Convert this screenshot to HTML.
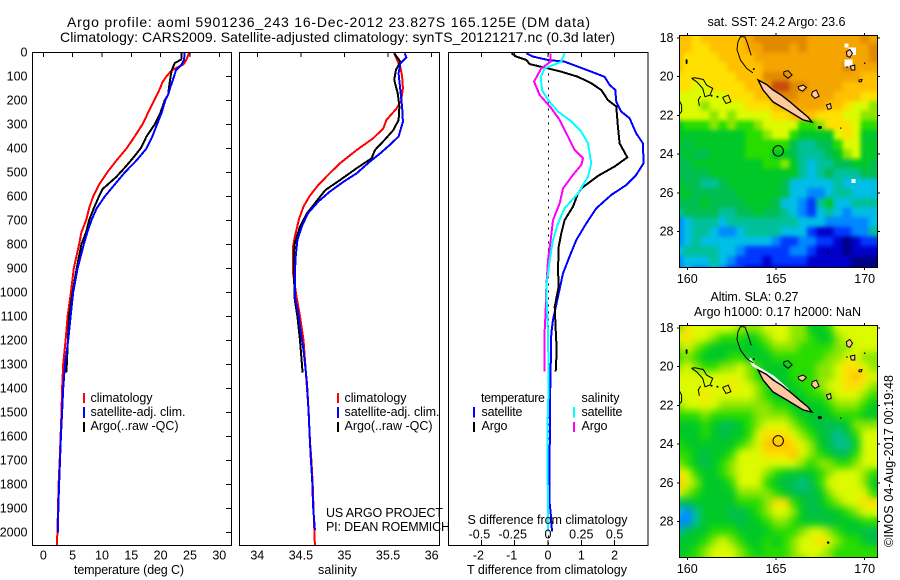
<!DOCTYPE html>
<html lang="en">
<head>
<meta charset="utf-8">
<title>Argo profile</title>
<style>
html,body{margin:0;padding:0;background:#fff;}
svg{display:block;font-family:"Liberation Sans",sans-serif;font-size:12.5px;fill:#000;}
</style>
</head>
<body>
<svg id="chart" xmlns="http://www.w3.org/2000/svg" width="900" height="580" viewBox="0 0 900 580">
  <defs>
    <clipPath id="clip-t"><rect x="33" y="53" width="198" height="492"/></clipPath>
    <clipPath id="clip-s"><rect x="240" y="53" width="199" height="492"/></clipPath>
    <clipPath id="clip-d"><rect x="449" y="53" width="199" height="492"/></clipPath>
    <clipPath id="clip-m1"><rect x="680" y="36" width="198" height="231"/></clipPath>
    <clipPath id="clip-m2"><rect x="680" y="326" width="198" height="231"/></clipPath>
    <filter id="soft-sst" x="-5%" y="-5%" width="110%" height="110%" color-interpolation-filters="sRGB">
      <feGaussianBlur in="SourceGraphic" stdDeviation="2" result="b"/>
      <feMerge><feMergeNode in="SourceGraphic"/><feMergeNode in="b"/></feMerge>
    </filter>
    <filter id="soft-sla" x="-5%" y="-5%" width="110%" height="110%" color-interpolation-filters="sRGB">
      <feGaussianBlur in="SourceGraphic" stdDeviation="4" result="b"/>
      <feMerge><feMergeNode in="SourceGraphic"/><feMergeNode in="b"/></feMerge>
    </filter>
  </defs>
  <text x="67" y="27" font-size="14" textLength="523" lengthAdjust="spacing">Argo profile: aoml 5901236_243 16-Dec-2012 23.827S 165.125E (DM data)</text>
  <text x="60" y="42" font-size="14" textLength="555" lengthAdjust="spacing">Climatology: CARS2009. Satellite-adjusted climatology: synTS_20121217.nc (0.3d later)</text>

  <g id="panel-t"></g>
  <g id="panel-s"></g>
  <g id="panel-d"></g>
  <g id="map-sst"></g>
  <g id="map-sla"></g>

  <text x="74" y="574" textLength="110" lengthAdjust="spacing">temperature (deg C)</text>
  <text x="318" y="574" textLength="39" lengthAdjust="spacing">salinity</text>
  <text x="467" y="574" textLength="160" lengthAdjust="spacing">T difference from climatology</text>
  <text x="467.5" y="524" textLength="160" lengthAdjust="spacing">S difference from climatology</text>

  <g>
    <rect x="83" y="393" width="2" height="10" fill="#f00"/>
    <rect x="83" y="407" width="2" height="11" fill="#00f"/>
    <rect x="83" y="422" width="2" height="10" fill="#000"/>
    <text x="90.5" y="402" textLength="62" lengthAdjust="spacing">climatology</text>
    <text x="90.5" y="416" textLength="95" lengthAdjust="spacing">satellite-adj. clim.</text>
    <text x="90.5" y="430" textLength="88" lengthAdjust="spacing">Argo(..raw -QC)</text>
  </g>
  <g>
    <rect x="337" y="393" width="2" height="10" fill="#f00"/>
    <rect x="337" y="407" width="2" height="11" fill="#00f"/>
    <rect x="337" y="422" width="2" height="10" fill="#000"/>
    <text x="344.5" y="402" textLength="62" lengthAdjust="spacing">climatology</text>
    <text x="344.5" y="416" textLength="95" lengthAdjust="spacing">satellite-adj. clim.</text>
    <text x="344.5" y="430" textLength="88" lengthAdjust="spacing">Argo(..raw -QC)</text>
  </g>
  <text x="326" y="517" textLength="117" lengthAdjust="spacing">US ARGO PROJECT</text>
  <text x="326" y="531" textLength="124" lengthAdjust="spacing">PI: DEAN ROEMMICH</text>

  <g>
    <text x="481" y="402" textLength="64" lengthAdjust="spacing">temperature</text>
    <text x="581.5" y="402" textLength="38" lengthAdjust="spacing">salinity</text>
    <rect x="473" y="407" width="2" height="10.5" fill="#00f"/>
    <rect x="473" y="422" width="2" height="10" fill="#000"/>
    <rect x="573" y="407" width="2" height="10.5" fill="#0ff"/>
    <rect x="573" y="422" width="2" height="10" fill="#f0f"/>
    <text x="481.5" y="416" textLength="41" lengthAdjust="spacing">satellite</text>
    <text x="481.5" y="430" textLength="26" lengthAdjust="spacing">Argo</text>
    <text x="581.5" y="416" textLength="41" lengthAdjust="spacing">satellite</text>
    <text x="581.5" y="430" textLength="26" lengthAdjust="spacing">Argo</text>
  </g>

  <text x="707.5" y="26" textLength="138" lengthAdjust="spacing">sat. SST: 24.2 Argo: 23.6</text>
  <text x="710.5" y="301" textLength="88" lengthAdjust="spacing">Altim. SLA: 0.27</text>
  <text x="694" y="316" textLength="167" lengthAdjust="spacing">Argo h1000: 0.17 h2000: NaN</text>
  <text transform="translate(893,547) rotate(-90)" textLength="172" lengthAdjust="spacing">©IMOS 04-Aug-2017 00:19:48</text>
</svg>
<script>
// ---------- profile data ----------
const depthTicks = [0,100,200,300,400,500,600,700,800,900,1000,1100,1200,1300,1400,1500,1600,1700,1800,1900,2000];
const tempTicks = [0,5,10,15,20,25,30];
const salTicks = [34,34.5,35,35.5,36];
const salTickLabels = ['34','34.5','35','35.5','36'];
const tDiffTicks = [-2,-1,0,1,2];
const sDiffTicks = [-0.5,-0.25,0,0.25,0.5];
const sDiffTickLabels = ['-0.5','-0.25','0','0.25','0.5'];

const tClimDepth = [0,30,50,75,100,125,150,200,250,300,350,400,450,500,550,600,650,700,750,800,900,1000,1100,1200,1300,1400,1500,1600,1700,1800,1900,2000,2054];
const tClim = [24.9,24.4,23.9,21.9,21.0,20.3,19.9,18.9,17.9,16.9,15.6,14.2,12.5,10.9,9.55,8.5,7.8,7.3,6.5,6.1,5.2,4.7,4.15,3.8,3.4,3.2,3.1,2.95,2.8,2.6,2.5,2.4,2.3];
const tSatDepth = [0,30,50,75,100,150,175,200,250,300,350,400,450,500,550,600,650,700,750,800,900,1000,1100,1200,1300,1400,1500,1600,1700,1800,1900,2000];
const tSat = [24.1,24.0,23.6,22.6,22.3,21.6,21.3,20.8,20.2,19.4,18.6,17.6,15.9,13.9,12.2,10.5,9.1,8.2,7.5,6.9,5.85,5.1,4.66,4.25,3.7,3.4,3.2,3.0,2.85,2.7,2.55,2.5];
const tArgoDepth = [0,30,45,75,100,150,175,200,250,300,350,400,440,480,520,570,600,650,700,750,800,900,1000,1100,1200,1300,1335];
const tArgo = [23.6,23.5,22.4,21.9,21.7,21.4,21.3,20.7,20.0,19.0,17.6,16.6,15.3,13.9,12.4,10.1,9.5,8.6,7.8,7.3,6.5,5.7,5.0,4.4,4.2,4.0,3.9];

const sClimDepth = [0,30,60,100,150,200,233,282,317,358,407,462,504,553,599,643,692,768,810,921,1018,1100,1200,1300,1400,1500,1600,1700,1800,1900,2000,2054];
const sClim = [35.57,35.6,35.64,35.66,35.67,35.65,35.6,35.48,35.445,35.33,35.14,34.95,34.83,34.70,34.60,34.53,34.48,34.43,34.41,34.41,34.45,34.49,34.53,34.55,34.57,34.59,34.60,34.62,34.635,34.645,34.655,34.66];
const sSatDepth = [4,21,46,88,157,226,289,351,386,421,456,504,539,581,622,671,726,782,851,921,1018,1088,1171,1240,1310,1379,1476,1587,1671,1782,1893,1990];
const sSat = [35.69,35.71,35.64,35.62,35.64,35.66,35.67,35.62,35.52,35.41,35.29,35.14,34.99,34.83,34.70,34.58,34.51,34.46,34.44,34.43,34.43,34.47,34.50,34.53,34.55,34.57,34.585,34.6,34.61,34.63,34.64,34.66];
const sArgoDepth = [4,39,74,115,171,226,282,324,365,407,442,483,532,574,629,671,726,796,838,921,1032,1100,1200,1335];
const sArgo = [35.57,35.64,35.59,35.57,35.61,35.63,35.62,35.56,35.46,35.35,35.31,35.14,34.95,34.78,34.66,34.57,34.49,34.43,34.42,34.42,34.43,34.46,34.49,34.52];

const dtSatDepth = [4,18,32,39,60,81,102,136,157,206,247,275,338,379,462,511,553,594,650,713,782,851,921,1018,1115,1171,1310,1449,1587,1726,1865,1921,1997];
const dtSat = [-0.65,-0.45,0,0.5,0.9,1.3,1.7,1.85,2.02,2.05,2.2,2.45,2.65,2.85,2.87,2.65,2.35,1.9,1.45,1.15,0.85,0.65,0.45,0.3,0.15,0.1,0.08,0.06,0.06,0.04,0.04,0.08,0.12];
const dtArgoDepth = [4,18,32,49,67,81,102,129,157,199,226,310,379,438,476,515,567,588,643,699,754,810,907,976,1060,1157,1240,1330];
const dtArgo = [-1.1,-0.95,-0.65,-0.55,0,0.4,0.9,1.3,1.6,1.8,2.05,2.1,2.15,2.38,2.0,1.5,1.0,0.9,0.75,0.5,0.4,0.32,0.3,0.32,0.2,0.23,0.26,0.23];
const dsSatDepth = [4,39,67,102,157,199,247,282,331,379,462,518,588,650,713,782,866,976,1032,1171,1379,1587,1921,1997];
const dsSat = [0.125,0.1,-0.025,-0.055,-0.045,0,0.075,0.1625,0.25,0.3,0.325,0.3,0.225,0.125,0.075,0.0375,0.0125,-0.0125,-0.01,0,0.005,-0.005,0,0];
const dsArgoDepth = [4,39,67,122,178,233,282,351,407,442,469,511,567,629,699,782,866,976,1074,1157,1330];
const dsArgo = [0.0175,0.02,-0.05,-0.105,-0.0625,0.025,0.0875,0.15,0.2,0.2625,0.25,0.1875,0.1125,0.0875,0.0375,0.02,0,-0.0125,-0.0175,-0.025,-0.025];

// ---------- map data: colour-level per 0.5 degree cell ----------
const mapLons = [159.5,160,160.5,161,161.5,162,162.5,163,163.5,164,164.5,165,165.5,166,166.5,167,167.5,168,168.5,169,169.5,170,170.5];
const mapLats = [18,18.5,19,19.5,20,20.5,21,21.5,22,22.5,23,23.5,24,24.5,25,25.5,26,26.5,27,27.5,28,28.5,29,29.5,30];
const lonTicks = [160,165,170];
const latTicks = [18,20,22,24,26,28];
const sstLevels = [
[12,12,11,12,12,12,12,12,13,14,14,14,14,14,14,13,13,13,13,13,13,14,13],
[12,12,11,11,12,12,12,12,13,13,14,14,14,13,14,13,13,13,13,13,13,13,14],
[12,11,11,11,11,12,12,12,12,13,13,13,13,13,13,13,13,13,13,13,13,13,14],
[12,11,11,11,11,11,12,12,12,12,13,13,13,13,13,13,13,13,13,14,13,13,13],
[11,11,11,11,11,11,11,12,12,12,14,14,14,13,13,13,13,13,13,13,13,12,12],
[11,11,10,10,11,11,11,11,12,12,13,15,15,14,14,13,13,13,13,12,12,12,12],
[10,10,10,10,10,10,11,11,11,12,12,14,14,14,13,13,13,13,12,12,12,11,11],
[10,10,10,9,10,10,10,10,11,11,11,12,13,13,13,13,13,12,12,11,10,10,9],
[10,10,10,10,9,10,9,10,10,10,10,11,11,12,12,12,11,11,11,10,10,9,9],
[7,8,8,8,9,8,9,8,8,9,10,10,10,10,8,8,9,11,11,11,10,8,8],
[7,7,7,7,7,7,7,7,8,8,9,10,10,8,7,7,7,7,10,11,10,7,7],
[7,6,7,7,7,7,7,7,8,8,8,8,8,6,5,5,6,6,8,10,10,7,7],
[6,7,6,6,7,7,7,7,8,8,8,7,7,6,5,5,5,6,7,9,10,7,7],
[6,6,7,7,7,7,7,7,7,7,8,8,9,7,5,4,5,5,6,6,7,7,6],
[6,6,6,6,7,7,7,7,7,7,7,7,7,7,5,4,5,6,5,5,5,6,6],
[7,6,6,5,5,6,7,7,7,7,7,7,6,4,4,4,4,4,5,4,4,4,4],
[7,7,6,6,6,6,6,7,7,7,7,7,6,4,4,3,3,4,5,5,4,4,4],
[6,6,6,7,6,6,6,6,7,7,7,6,4,4,3,2,5,7,4,4,5,5,5],
[5,6,6,6,6,5,5,6,6,7,6,6,5,4,3,2,4,5,4,3,4,4,4],
[3,4,5,5,5,4,5,5,5,5,5,5,5,5,4,4,4,3,3,3,3,3,4],
[3,4,5,5,4,3,3,4,5,5,5,5,4,4,4,2,1,1,2,2,3,3,5],
[3,4,5,4,4,4,4,4,4,4,4,3,2,2,3,3,2,2,1,0,1,2,2],
[4,5,5,5,5,4,4,3,2,2,2,2,2,3,3,2,1,1,1,0,1,1,1],
[3,4,4,4,5,4,3,2,2,2,1,2,2,2,2,1,1,1,1,1,0,0,0],
[3,4,3,3,4,3,2,2,1,1,1,1,1,1,1,1,1,1,1,1,0,0,0]
];
const slaLevels = [
[9,11,10,10,10,10,10,9,9,9,10,10,10,9,9,7,7,8,10,10,10,10,10],
[10,11,10,10,9,8,8,8,7,8,9,10,10,9,9,8,7,7,9,10,10,10,10],
[9,10,9,8,7,7,7,7,7,7,8,9,9,9,8,8,8,8,9,9,10,10,10],
[8,9,8,7,7,7,8,8,7,7,7,8,8,8,8,8,8,9,9,10,10,9,9],
[9,10,9,8,8,9,9,10,9,8,7,7,7,8,8,8,9,9,10,11,11,10,9],
[10,10,10,10,10,10,10,10,9,8,7,7,7,8,8,8,9,9,10,11,12,11,10],
[10,10,10,10,10,10,11,10,10,9,8,7,7,7,8,8,9,10,10,11,11,10,9],
[10,10,10,11,10,10,10,10,10,9,8,7,7,7,7,8,8,9,10,10,10,9,8],
[9,10,10,10,10,9,9,9,9,9,9,8,8,7,7,7,7,8,9,9,9,8,7],
[8,8,8,9,8,8,8,8,8,9,9,9,9,8,7,7,7,7,8,8,8,7,7],
[7,7,7,8,7,6,6,7,8,9,10,10,10,9,8,7,6,6,6,7,9,9,9],
[7,7,7,8,7,6,7,7,8,10,11,11,11,10,9,8,7,6,5,6,8,10,10],
[8,7,7,7,7,7,7,8,9,10,12,12,12,11,10,9,7,6,5,5,7,10,10],
[8,8,7,6,7,7,8,10,10,10,11,11,11,12,10,9,8,7,6,6,8,10,10],
[9,8,7,6,7,8,9,10,10,10,10,10,10,10,9,8,9,9,8,8,9,10,10],
[11,10,8,7,7,8,9,10,10,10,9,8,7,7,7,7,8,9,10,10,10,9,8],
[12,10,9,7,7,7,8,10,10,10,8,7,6,6,5,6,8,10,10,10,10,9,7],
[10,9,8,7,7,7,7,9,9,9,9,8,7,6,6,6,7,9,10,10,10,10,8],
[6,6,7,7,7,7,7,8,8,8,9,11,11,8,7,6,7,8,9,10,10,11,11],
[4,3,5,7,7,7,6,6,7,8,9,10,10,9,7,6,6,7,7,8,9,10,10],
[3,3,5,7,7,7,7,6,7,7,8,9,9,8,7,7,7,6,7,7,7,8,8],
[5,6,7,7,8,8,8,7,7,7,7,8,8,8,9,10,10,9,8,7,7,6,6],
[7,7,7,8,9,10,9,8,7,7,8,7,8,9,10,10,11,10,9,8,8,7,6],
[7,7,8,9,10,10,10,9,8,7,8,8,8,9,10,10,10,9,8,8,8,8,8],
[7,8,8,9,10,10,10,9,8,8,8,8,8,9,9,10,9,9,8,8,8,8,8]
];
const levelColors = ['#000088','#0000cc','#0038ff','#0088ff','#00bee6','#00c09a','#00be50','#00c828','#28dc00','#8ce600','#dcfa00','#ffe000','#ffc000','#f5a500','#e08a00','#c84a10'];

// [lon, lat] outlines
const mainIsland = [[163.99,20.17],[164.47,20.4],[164.83,20.68],[165.3,20.95],[165.79,21.3],[166.3,21.7],[166.8,22.08],[167.03,22.34],[166.52,22.23],[165.62,21.72],[164.83,21.3],[164.27,20.68]];
const smallIslands = [
[[166.25,20.52],[166.53,20.43],[166.72,20.55],[166.5,20.74],[166.3,20.66]],
[[167.05,20.77],[167.28,20.69],[167.43,21.0],[167.19,21.12],[167.0,20.95]],
[[167.84,21.46],[168.07,21.38],[168.12,21.63],[167.94,21.69]],
[[168.97,18.71],[169.16,18.59],[169.31,18.79],[169.16,19.0],[169.0,18.93]],
[[169.19,19.45],[169.44,19.4],[169.44,19.65],[169.25,19.65]],
[[169.68,20.17],[169.85,20.14],[169.81,20.26],[169.68,20.26]]
];
const reefLines = [
[[162.85,18.2],[163.0,17.93],[163.25,17.95],[163.4,18.3],[163.5,18.6],[163.6,18.9]],
[[162.85,18.2],[162.8,18.6],[163.0,19.14],[163.35,19.57],[163.7,19.8]],
[[160.24,20.08],[160.43,20.05],[160.9,20.14],[161.09,20.43],[161.43,20.6],[161.28,20.95],[161.0,21.03],[160.87,20.6],[160.53,20.26],[160.24,20.08]],
[[160.75,21.0],[160.62,21.2],[160.68,21.5]],
[[161.99,21.07],[162.31,20.95],[162.46,21.29],[162.18,21.38],[161.99,21.07]],
[[159.55,21.24],[159.68,21.46],[159.68,21.8],[159.55,21.93]],
[[165.44,19.74],[165.68,19.69],[165.91,19.91],[165.68,20.08],[165.44,19.91],[165.44,19.74]]
];
const blackSpots = [[159.96,19.22,1,2.5],[167.47,22.62,2,1.6],[167.94,29.08,1.2,1.2],[161.37,20.98,1,1],[161.7,21.03,1,1],[163.75,19.6,1,1],[168.65,22.65,.7,.7],[169.0,19.5,.8,.8],[170.0,19.3,.8,.8]];
const nanCellsSst = [[168.87,18.28,0.23,0.2],[169.1,18.48,0.4,0.4],[168.87,19.1,0.43,0.38],[169.25,25.28,0.24,0.2]];
const slaCoastNan = [[163.53,19.57],[163.71,19.91],[164.18,20.17],[164.84,20.52],[165.68,21.2]];
const argoLon = 165.125;
const argoLat = 23.827;

// ---------- axis functions ----------
const NS = 'http://www.w3.org/2000/svg';
const yD = d => 52.3 + d * 0.24;
const xT = t => 43.3 + t * 5.867;
const xS = s => 257.3 + (s - 34) * 87.2;
const xDT = t => 548 + t * 33.3;
const xDS = s => 548 + s * 133.2;
const xLon = lon => 687.3 + (lon - 160) * 17.74;
const yLat = (y0, lat) => y0 + (lat - 18) * 19.37;

function make(tag, parent, name) {
  const el = document.createElementNS(NS, tag);
  
  
  parent.appendChild(el);
  return el;
}
function tick(parent, x1, y1, x2, y2) {
  const el = make('line', parent, 'tick-mark');
  el.setAttribute('x1', x1); el.setAttribute('y1', y1);
  el.setAttribute('x2', x2); el.setAttribute('y2', y2);
  el.setAttribute('stroke', '#000');
  el.setAttribute('shape-rendering', 'crispEdges');
}
function label(parent, text, x, y, anchor) {
  const el = make('text', parent, 'tick-label');
  el.setAttribute('x', x); el.setAttribute('y', y);
  el.setAttribute('text-anchor', anchor);
  el.textContent = text;
}
function frame(parent, x, y, w, h) {
  const el = make('rect', parent, 'plot-frame');
  el.setAttribute('x', x); el.setAttribute('y', y);
  el.setAttribute('width', w); el.setAttribute('height', h);
  el.setAttribute('fill', 'none');
  el.setAttribute('stroke', '#000');
  el.setAttribute('shape-rendering', 'crispEdges');
}
function series(parent, name, xs, depths, xf, color, width) {
  const el = make('polyline', parent, name);
  el.setAttribute('points', xs.map((v, i) => xf(v).toFixed(1) + ',' + yD(depths[i]).toFixed(1)).join(' '));
  el.setAttribute('fill', 'none');
  el.setAttribute('stroke', color);
  el.setAttribute('stroke-width', width);
  el.setAttribute('shape-rendering', 'crispEdges');
}

// ---------- temperature panel ----------
const pT = document.getElementById('panel-t');
const gT = make('g', pT, 'temperature-series');
gT.setAttribute('clip-path', 'url(#clip-t)');
series(gT, 'temperature-climatology-line', tClim, tClimDepth, xT, '#f00', 2);
series(gT, 'temperature-argo-line', tArgo, tArgoDepth, xT, '#000', 2);
series(gT, 'temperature-satellite-line', tSat, tSatDepth, xT, '#00f', 2);
frame(pT, 32.5, 52.5, 199, 493);
depthTicks.forEach(d => {
  tick(pT, 226, yD(d), 231, yD(d));
  label(pT, String(d), 27.5, yD(d) + 4, 'end');
});
tempTicks.forEach(t => {
  tick(pT, xT(t), 52, xT(t), 57);
  label(pT, String(t), xT(t), 559.5, 'middle');
});

// ---------- salinity panel ----------
const pS = document.getElementById('panel-s');
const gS = make('g', pS, 'salinity-series');
gS.setAttribute('clip-path', 'url(#clip-s)');
series(gS, 'salinity-climatology-line', sClim, sClimDepth, xS, '#f00', 2);
series(gS, 'salinity-argo-line', sArgo, sArgoDepth, xS, '#000', 2);
series(gS, 'salinity-satellite-line', sSat, sSatDepth, xS, '#00f', 2);
frame(pS, 239.5, 52.5, 200, 493);
salTicks.forEach((s, i) => {
  tick(pS, xS(s), 52, xS(s), 57);
  label(pS, salTickLabels[i], xS(s), 559.5, 'middle');
});

// ---------- difference panel ----------
const pD = document.getElementById('panel-d');
const gD = make('g', pD, 'difference-series');
gD.setAttribute('clip-path', 'url(#clip-d)');
const zero = make('line', gD, 'zero-line');
zero.setAttribute('x1', xDT(0) + 0.5); zero.setAttribute('x2', xDT(0) + 0.5);
zero.setAttribute('y1', yD(0)); zero.setAttribute('y2', yD(2054));
zero.setAttribute('stroke', '#000');
zero.setAttribute('stroke-dasharray', '2 5');
zero.setAttribute('shape-rendering', 'crispEdges');
series(gD, 't-diff-satellite-line', dtSat, dtSatDepth, xDT, '#00f', 2);
series(gD, 't-diff-argo-line', dtArgo, dtArgoDepth, xDT, '#000', 2);
series(gD, 's-diff-argo-line', dsArgo, dsArgoDepth, xDS, '#f0f', 2);
series(gD, 's-diff-satellite-line', dsSat, dsSatDepth, xDS, '#0ff', 2);
frame(pD, 448.5, 52.5, 199.5, 493);
tDiffTicks.forEach(t => {
  tick(pD, xDT(t), 52, xDT(t), 57);
  label(pD, String(t), xDT(t) - (t < 0 ? 3 : 0), 559.5, 'middle');
});
sDiffTicks.forEach((s, i) => {
  tick(pD, xDS(s), 540, xDS(s), 545);
  label(pD, sDiffTickLabels[i], xDS(s) - (s < 0 ? 2 : 0), 538.5, 'middle');
});

// ---------- maps ----------
function closedPath(points, y0) {
  return points.map(p => xLon(p[0]).toFixed(1) + ',' + yLat(y0, p[1]).toFixed(1)).join(' ');
}
function drawMap(groupId, y0, levels, clipId, isSst) {
  const g = document.getElementById(groupId);
  const inner = make('g', g, 'map-area');
  inner.setAttribute('clip-path', 'url(#' + clipId + ')');
  const cells = make('g', inner, 'heatmap-cells');
  cells.setAttribute('filter', isSst ? 'url(#soft-sst)' : 'url(#soft-sla)');
  const cw = 0.5 * 17.74;
  const ch = 0.5 * 19.37;
  levels.forEach((row, r) => {
    row.forEach((v, c) => {
      const cell = make('rect', cells, 'heatmap-cell');
      cell.setAttribute('x', (xLon(mapLons[c]) - cw / 2).toFixed(1));
      cell.setAttribute('y', (yLat(y0, mapLats[r]) - ch / 2).toFixed(1));
      cell.setAttribute('width', (cw + 0.5).toFixed(1));
      cell.setAttribute('height', (ch + 0.5).toFixed(1));
      cell.setAttribute('fill', levelColors[v]);
      cell.setAttribute('shape-rendering', 'crispEdges');
    });
  });
  if (isSst) {
    nanCellsSst.forEach(n => {
      const w = make('rect', inner, 'missing-data-cell');
      w.setAttribute('x', xLon(n[0]));
      w.setAttribute('y', yLat(y0, n[1]));
      w.setAttribute('width', n[2] * 17.74);
      w.setAttribute('height', n[3] * 19.37);
      w.setAttribute('fill', '#fff');
      w.setAttribute('shape-rendering', 'crispEdges');
    });
  } else {
    const nan = make('polyline', inner, 'missing-data-coast');
    nan.setAttribute('points', closedPath(slaCoastNan, y0));
    nan.setAttribute('fill', 'none');
    nan.setAttribute('stroke', '#fff');
    nan.setAttribute('stroke-width', '2.5');
  }
  reefLines.forEach(line => {
    const l = make('polyline', inner, 'reef-outline');
    l.setAttribute('points', closedPath(line, y0));
    l.setAttribute('fill', 'none');
    l.setAttribute('stroke', '#000');
    l.setAttribute('stroke-width', '1');
  });
  smallIslands.concat([mainIsland]).forEach(poly => {
    const p = make('polygon', inner, 'island');
    p.setAttribute('points', closedPath(poly, y0));
    p.setAttribute('fill', '#ffc89e');
    p.setAttribute('stroke', '#000');
    p.setAttribute('stroke-width', poly === mainIsland ? '1.4' : '1');
  });
  blackSpots.forEach(s => {
    const e = make('ellipse', inner, 'small-island-spot');
    e.setAttribute('cx', xLon(s[0]));
    e.setAttribute('cy', yLat(y0, s[1]));
    e.setAttribute('rx', s[2]);
    e.setAttribute('ry', s[3]);
    e.setAttribute('fill', '#000');
  });
  const marker = make('circle', inner, 'argo-position-marker');
  marker.setAttribute('cx', xLon(argoLon));
  marker.setAttribute('cy', yLat(y0, argoLat));
  marker.setAttribute('r', 5.2);
  marker.setAttribute('fill', 'none');
  marker.setAttribute('stroke', '#000');
  frame(g, 679.5, y0 - 2.5, 198, 232);
  lonTicks.forEach(lon => {
    tick(g, xLon(lon), y0 - 5, xLon(lon), y0 - 3);
    tick(g, xLon(lon), y0 + 230, xLon(lon), y0 + 232);
    label(g, String(lon), xLon(lon), y0 + 245, 'middle');
  });
  latTicks.forEach(lat => {
    const y = yLat(y0, lat);
    tick(g, 677, y, 679, y);
    tick(g, 878, y, 880, y);
    label(g, String(lat), 673.5, y + 4, 'end');
  });
}
drawMap('map-sst', 38, sstLevels, 'clip-m1', true);
drawMap('map-sla', 328, slaLevels, 'clip-m2', false);
</script>
</body>
</html>
